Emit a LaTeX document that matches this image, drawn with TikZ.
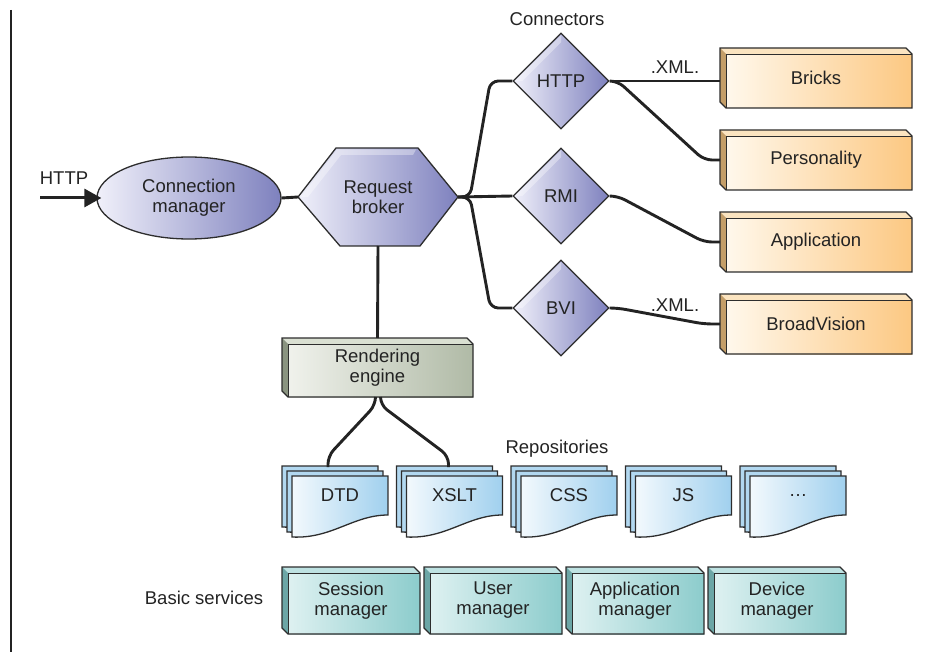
\documentclass[tikz,border=0pt]{standalone}
\usepackage{fontspec}
\setmainfont{Liberation Sans}
\usepackage{tikz}
\usetikzlibrary{shapes.geometric, arrows.meta, positioning, backgrounds}
\definecolor{ink}{RGB}{35,35,35}
\definecolor{rim}{RGB}{45,45,45}
\definecolor{purplelite}{RGB}{240,240,250}
\definecolor{purpledark}{RGB}{126,129,190}
\definecolor{orlite}{RGB}{255,248,236}
\definecolor{ordark}{RGB}{252,200,130}
\definecolor{orside}{RGB}{196,158,104}
\definecolor{ortop}{RGB}{251,228,192}
\definecolor{grlite}{RGB}{240,242,236}
\definecolor{grdark}{RGB}{176,186,166}
\definecolor{grside}{RGB}{138,148,128}
\definecolor{grtop}{RGB}{218,224,210}
\definecolor{tllite}{RGB}{222,241,241}
\definecolor{tldark}{RGB}{140,204,204}
\definecolor{tlside}{RGB}{108,166,166}
\definecolor{tltop}{RGB}{190,226,226}
\definecolor{bllite}{RGB}{243,249,253}
\definecolor{bldark}{RGB}{160,208,238}
\definecolor{blback}{RGB}{178,216,240}
\tikzstyle{wire} = [line width=2.9pt, rounded corners=8pt, draw=ink]
\tikzstyle{inarrow} = [line width=3pt, draw=ink, -{Triangle[length=17pt,width=18pt]}]
\tikzstyle{listener} = [ellipse, minimum width=184pt, minimum height=82pt, draw=rim, line width=1.3pt, left color=purplelite, right color=purpledark, align=center]
\tikzstyle{hexbox} = [rectangle, minimum width=160pt, minimum height=98pt, outer sep=0pt, align=center]
\tikzstyle{connector} = [diamond, minimum width=96pt, minimum height=96pt, inner sep=0pt, draw=rim, line width=1.3pt, left color=purplelite, right color=purpledark]
\tikzstyle{backend} = [rectangle, minimum width=192pt, minimum height=60pt, outer sep=0pt]
\tikzstyle{engine} = [rectangle, minimum width=191pt, minimum height=59pt, outer sep=0pt, align=center]
\tikzstyle{service} = [rectangle, minimum width=138pt, minimum height=67pt, outer sep=0pt, align=center]
\tikzstyle{repo} = [rectangle, minimum width=96pt, minimum height=39pt, outer sep=0pt]
\tikzstyle{rimline} = [draw=rim, line width=1.3pt]
% one sheet of a repository stack, #2 = offset up and left
\newcommand{\docsheet}[3]{%
  \path[#3] ([shift={(-#2,-#2)}]#1.north west) -- ([shift={(-#2,-#2)}]#1.north east)
    -- ([shift={(-#2,-#2)}]#1.south east)
    .. controls ([shift={(-#2-35,-#2)}]#1.south east) and ([shift={(40-#2,24-#2)}]#1.south west)
    .. ([shift={(-#2,22-#2)}]#1.south west) -- cycle;}

\begin{document}
\begin{tikzpicture}[x=1pt, y=-1pt, node distance=22pt, font=\fontsize{18.5}{20}\selectfont, text=ink]
    \useasboundingbox (0,0) rectangle (926,652);
    \draw [line width=1.5pt, ink] (11,10) -- (11,652);

    % front end
    \coordinate (httpin) at (40,198);
    \node (lblhttp) at (64,178) {HTTP};
    \node (conn) [listener] at (189,198) {Connection\\manager};
    \node (broker) [hexbox] at (378,197) {Request\\broker};
    \node (render) [engine] at (377.5,367.5) {Rendering\\engine};

    % connectors
    \node (lblconn) at (557,19) {Connectors};
    \node (chttp) [connector] at (561,81) {HTTP};
    \node (crmi) [connector] at (561,196) {RMI};
    \node (cbvi) [connector] at (561,308) {BVI};

    % back ends
    \node (bricks) [backend] at (816,78) {Bricks};
    \node (personality) [backend, below=of bricks] {Personality};
    \node (application) [backend, below=of personality] {Application};
    \node (broadvision) [backend, below=of application] {BroadVision};
    \node (xmltop) at (675,67) {.XML.};
    \node (xmlbvi) at (675,305) {.XML.};

    % repositories
    \node (lblrepo) at (557,449) {Repositories};
    \node (dtd) [repo] at (340,495.5) {DTD};
    \node (xslt) [repo, right=18.5pt of dtd] {XSLT};
    \node (css) [repo, right=18.5pt of xslt] {CSS};
    \node (js) [repo, right=18.5pt of css] {JS};
    \node (more) [repo, right=18.5pt of js] {\dots};

    % basic services
    \node (lblbasic) at (204,598) {Basic services};
    \node (session) [service] at (351,600.5) {Session\\manager};
    \node (usermgr) [service, right=4pt of session] {User\\manager};
    \node (appmgr) [service, right=4pt of usermgr] {Application\\manager};
    \node (devmgr) [service, right=4pt of appmgr] {Device\\manager};

    % bodies behind the texts
    \begin{pgfonlayer}{background}
        \shadedraw [left color=purplelite, right color=purpledark, rimline]
            (broker.west) -- ([xshift=38pt]broker.north west) -- ([xshift=-40pt]broker.north east)
            -- (broker.east) -- ([xshift=-38pt]broker.south east) -- ([xshift=42pt]broker.south west) -- cycle;
        \fill [white, opacity=0.35] ([xshift=3pt]broker.west) -- ([xshift=39pt,yshift=-1.5pt]broker.north west)
            -- ([xshift=-42pt,yshift=-1.5pt]broker.north east) -- ([xshift=-45pt,yshift=-7pt]broker.north east)
            -- ([xshift=43pt,yshift=-7pt]broker.north west) -- ([xshift=10pt]broker.west) -- cycle;
        \foreach \n/\lite/\dark/\side/\lid in {bricks/orlite/ordark/orside/ortop,
                personality/orlite/ordark/orside/ortop, application/orlite/ordark/orside/ortop,
                broadvision/orlite/ordark/orside/ortop, render/grlite/grdark/grside/grtop,
                session/tllite/tldark/tlside/tltop, usermgr/tllite/tldark/tlside/tltop,
                appmgr/tllite/tldark/tlside/tltop, devmgr/tllite/tldark/tlside/tltop} {
            \shade [left color=\lite, right color=\dark] ([xshift=6pt,yshift=-6pt]\n.north west)
                -- ([yshift=-6pt]\n.north east) -- (\n.south east) -- ([xshift=6pt]\n.south west) -- cycle;
            \fill [\lid] (\n.north west) -- ([xshift=-6pt]\n.north east) -- ([yshift=-6pt]\n.north east)
                -- ([xshift=6pt,yshift=-6pt]\n.north west) -- cycle;
            \fill [\side] (\n.north west) -- ([xshift=6pt,yshift=-6pt]\n.north west)
                -- ([xshift=6pt]\n.south west) -- ([yshift=6pt]\n.south west) -- cycle;
            \draw [rim, line width=0.5pt] ([yshift=-6pt]\n.north east) -- ([xshift=6pt,yshift=-6pt]\n.north west)
                -- ([xshift=6pt]\n.south west);
            \draw [rimline] (\n.north west) -- ([xshift=-6pt]\n.north east) -- ([yshift=-6pt]\n.north east)
                -- (\n.south east) -- ([xshift=6pt]\n.south west) -- ([yshift=6pt]\n.south west) -- cycle;
        }
        \foreach \n in {dtd, xslt, css, js, more} {
            \docsheet{\n}{10}{fill=blback, rimline}
            \docsheet{\n}{5}{fill=blback, rimline}
            \docsheet{\n}{0}{left color=bllite, right color=bldark, rimline}
        }
    \end{pgfonlayer}
    \foreach \n in {chttp, crmi, cbvi}
        \fill [white, opacity=0.35] ([xshift=3pt]\n.west) -- ([yshift=-3pt]\n.north)
            -- ([yshift=-10pt]\n.north) -- ([xshift=10pt]\n.west) -- cycle;

    % links
    \draw [inarrow] (httpin) -- ([xshift=5pt]conn.west);
    \draw [wire] (conn.east) -- (broker.west);
    \draw [wire] (broker.east) -- ++(12,0) -- ([xshift=-22pt]chttp.west) -- (chttp.west);
    \draw [wire] (broker.east) -- (crmi.west);
    \draw [wire] (broker.east) -- ++(12,0) -- ([xshift=-22pt]cbvi.west) -- (cbvi.west);
    \draw [wire] (chttp.east) -- (chttp.east -| bricks.west);
    \draw [wire] (chttp.east) -- ++(8,0) -- ([xshift=-16pt]personality.west) -- (personality.west);
    \draw [wire] (crmi.east) -- ++(8,0) -- ([xshift=-16pt]application.west) -- (application.west);
    \draw [wire] (cbvi.east) -- ++(8,0) -- ([xshift=-16pt]broadvision.west) -- (broadvision.west);
    \draw [wire] (broker.south) -- (render.north);
    \draw [wire] ([xshift=-2pt]render.south) -- ++(0,8) -- ([xshift=-12pt,yshift=20pt]dtd.north)
        -- ([xshift=-12pt,yshift=9pt]dtd.north);
    \draw [wire] ([xshift=3pt]render.south) -- ++(0,8) -- ([xshift=-6pt,yshift=20pt]xslt.north)
        -- ([xshift=-6pt,yshift=9pt]xslt.north);
\end{tikzpicture}
\end{document}
